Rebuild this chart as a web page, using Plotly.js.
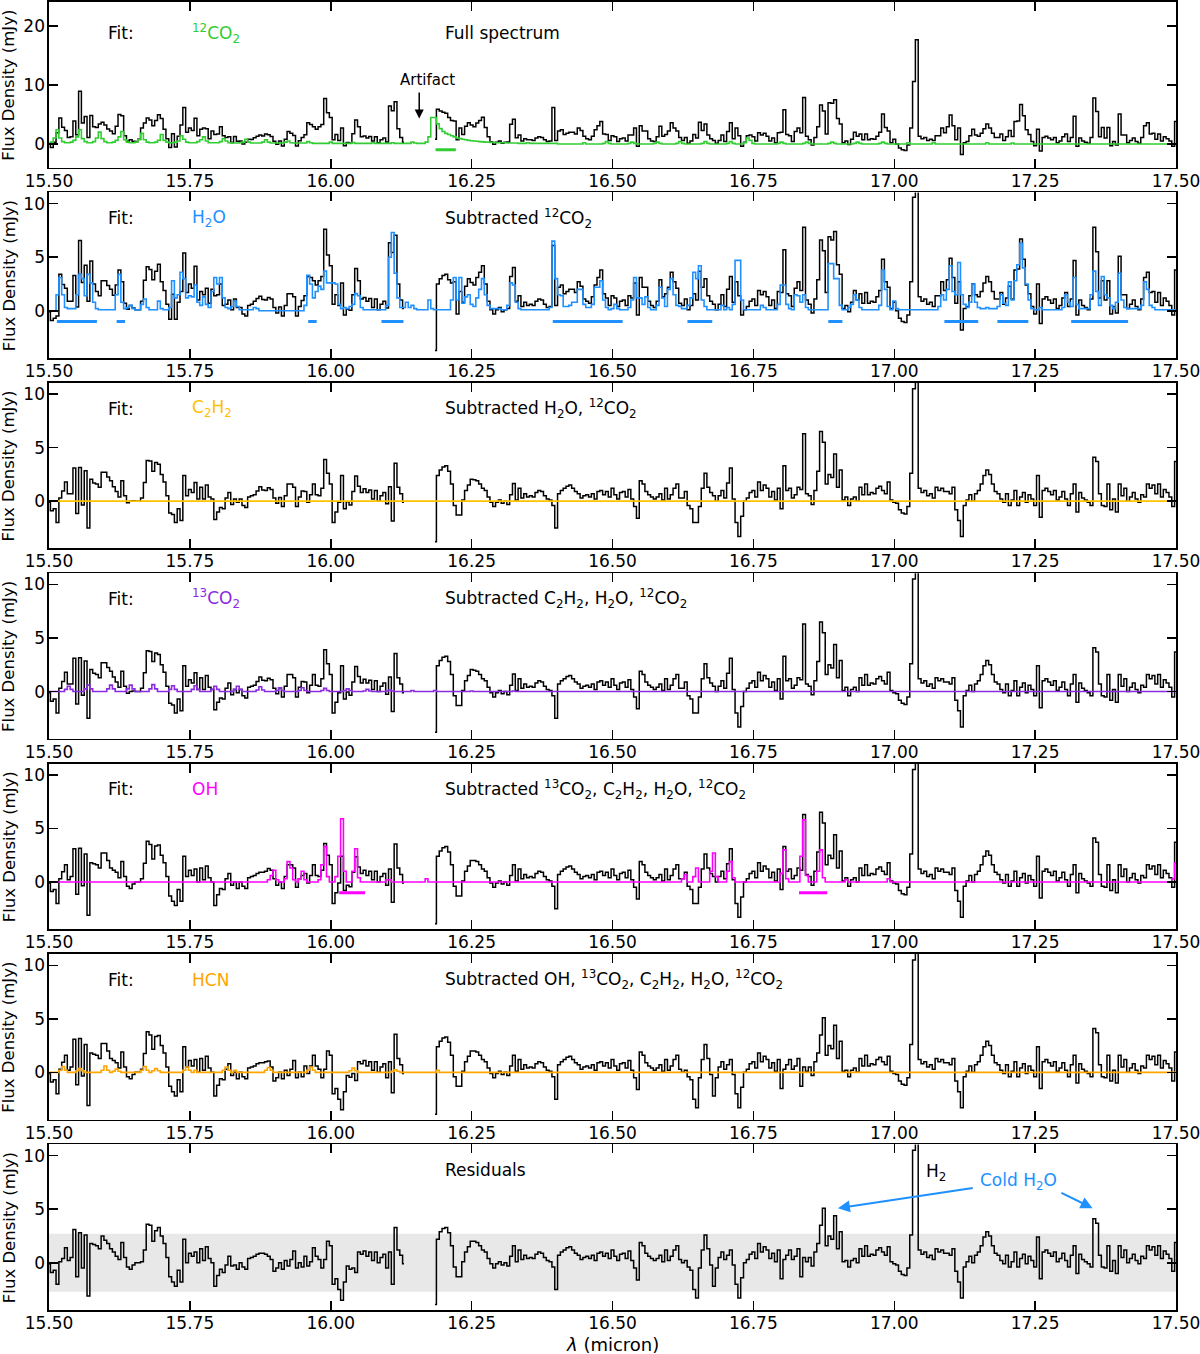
<!DOCTYPE html>
<html>
<head>
<meta charset="utf-8">
<script src="https://cdn.plot.ly/plotly-3.0.1.min.js"></script>
<style>
  body { margin: 0; background: #fff; }
  #graph { width: 1200px; height: 1354px; }
</style>
</head>
<body>
<div id="graph"></div>
<script>
// Spectral channel grid (micron)
const WL0 = 15.50, WL_STEP = 0.005;

// Residual spectrum (mJy), one value per channel; null = no data (artifact gap)
const residual = [
  -0.1,-0.9,-0.7,-2.0,0.1,0.4,1.4,0.2,0.5,3.1,
  -1.3,2.8,-0.5,2.6,-3.1,1.8,1.7,1.6,1.3,2.5,
  2.1,1.8,1.3,1.0,0.6,0.3,1.9,0.5,-0.4,-0.6,
  -0.2,0.0,0.0,0.1,1.2,3.6,3.5,2.0,3.0,3.3,
  2.5,1.8,0.5,-1.3,-1.8,-2.2,-0.7,-1.8,2.2,0.0,
  0.9,0.6,1.0,0.0,1.3,0.2,1.5,0.4,0.0,-2.2,
  -1.2,-0.6,-0.9,-0.2,0.6,-0.3,-0.2,-0.6,0.0,-0.4,
  -0.6,0.4,0.5,0.6,0.8,0.9,0.9,0.8,0.6,0.3,
  -0.8,-0.5,0.0,-0.6,0.2,-0.3,0.3,1.1,-0.5,0.0,
  -0.4,0.6,-0.3,0.1,1.4,0.6,0.3,-0.5,0.3,2.0,
  1.6,-2.0,-1.5,-2.5,-3.5,-1.8,-0.3,-0.6,-0.5,-0.9,
  1.0,0.8,1.1,0.6,1.0,0.2,1.0,0.0,0.5,0.8,
  -0.5,1.0,-2.0,3.3,1.2,0.7,-0.1,null,null,null,
  null,null,null,null,null,null,null,-3.9,2.2,2.9,
  3.2,3.3,2.8,1.6,-0.4,-1.3,-1.3,0.1,1.0,1.5,
  2.0,2.0,1.9,1.6,1.2,1.0,0.4,-0.1,-0.5,-0.1,
  0.1,-0.2,0.0,-0.3,0.6,1.6,0.1,1.2,0.3,0.7,
  0.4,0.5,0.4,0.8,1.0,0.9,0.5,0.2,0.1,-0.4,
  -2.5,0.7,1.0,1.2,1.4,1.5,1.2,0.9,0.7,0.3,
  0.5,0.6,0.4,0.7,0.2,0.9,1.0,0.6,0.9,0.4,
  1.2,0.6,0.2,0.8,0.9,0.4,1.1,0.2,-0.5,-1.6,
  1.9,1.6,0.9,0.6,0.4,0.2,0.4,0.7,0.1,1.2,
  0.2,0.6,1.2,1.6,0.3,0.0,0.2,-0.4,-0.7,-2.5,
  -3.3,-0.5,1.2,2.6,1.3,-0.2,-2.2,-0.5,0.5,1.0,
  0.3,0.7,1.2,-0.2,-2.0,-3.3,-1.4,0.0,0.3,0.8,
  1.0,0.4,1.8,1.0,1.5,1.2,0.4,0.9,0.1,1.2,
  -1.5,0.3,0.7,1.2,0.3,0.6,1.3,-1.3,0.5,0.1,
  0.5,-0.3,1.0,1.8,3.5,5.1,1.6,2.5,2.2,4.4,
  1.3,2.9,0.1,0.2,-0.4,0.2,0.4,0.0,1.3,0.6,
  1.6,0.6,0.8,0.7,1.2,1.4,1.0,0.7,1.5,0.1,
  -0.1,-0.2,-0.8,-1.1,-1.2,-0.5,2.6,10.5,17.6,1.2,
  0.8,1.0,0.5,0.7,0.3,1.3,1.0,1.2,0.9,0.9,
  0.7,1.3,-0.8,-1.8,-3.3,-0.4,0.1,0.6,0.0,0.7,
  1.0,1.6,2.4,2.9,2.5,1.6,0.9,0.7,0.2,-0.1,
  0.7,-0.4,0.1,1.0,-0.4,0.4,0.8,-0.1,0.6,0.2,
  -0.4,2.4,-1.5,1.0,1.2,0.9,0.6,1.0,0.1,0.4,
  0.9,0.2,-0.4,0.7,1.6,-1.0,0.8,0.3,0.1,-0.1,
  -0.4,4.1,3.7,0.7,-0.4,-0.5,1.6,-0.8,0.2,-1.0,
  1.6,0.5,1.2,0.0,0.4,0.8,0.2,-0.1,0.6,0.4,
  1.6,1.2,1.5,0.7,1.6,0.4,1.1,0.8,0.4,-0.8,
  1.9
];

// H2O slab model (mJy), same channels
const h2oModel = [
  0,0,0,1.5,3.1,1.5,0.3,0.2,0.2,0.2,
  1.5,3.4,3.0,1.4,3.4,2.6,0.8,0.2,0.1,0.1,
  0.1,0.1,0.1,0.1,1.5,3.4,0.8,0.2,0.3,0.5,
  0.2,0.1,0.1,0.6,1.1,0.3,0.1,0.1,0.1,0.9,
  0.2,0.1,0.1,0.3,2.8,1.2,1.5,3.6,3.0,1.2,
  1.4,1.3,2.4,0.8,0.5,1.3,0.6,0.3,1.8,3.1,
  2.5,3.1,1.2,0.3,0.2,0.4,0.9,0.4,0.1,0.1,
  0.1,0.1,0.1,0.3,0.2,0,0,0,0,0,
  0,0,0,0,0,0,0,0,0,0,
  0,0.5,3.3,2.5,1.2,1.8,2.3,2.0,3.7,2.6,
  2.6,2.6,2.5,0.6,0.2,0.3,0.2,0.4,0.6,1.6,
  1.4,0.3,0.1,0.1,0.1,0.1,0.1,0.1,0.1,0.1,
  0.5,5.0,7.3,3.5,1.2,0.3,0.3,0.8,0.3,0.5,
  0.2,0.1,0.1,0.1,0.1,1.0,0.2,0.1,0.1,0.1,
  0.1,0.1,0.1,1.0,3.1,1.0,3.1,0.7,1.3,1.5,
  0.6,0.4,1.2,2.0,3.0,1.5,0.5,0.2,0.2,0.2,
  0.2,0.1,0.1,0.5,2.6,2.4,0.8,0.2,0.1,0.1,
  0.1,0.1,0.1,0.1,0.1,0.1,0.1,0.1,0.3,6.5,
  3.0,1.5,1.4,0.4,0.4,0.5,0.8,0.8,2.0,2.0,
  0.6,0.3,0.3,0.6,2.2,2.2,2.8,1.0,0.3,0.1,
  0.2,0.6,0.2,0.1,0.1,0.1,0.3,1.0,3.1,1.2,
  1.2,0.6,1.3,0.3,0.1,0.1,0.5,2.2,1.2,0.4,
  2.0,3.0,1.5,0.5,0.4,0.2,0.2,0.5,1.2,3.6,
  3.0,4.2,1.0,0.4,0.1,0.1,0.1,0.1,0.1,0.5,
  0.1,0.3,0.1,0.6,4.7,4.7,1.0,0.1,0.1,0.1,
  0.1,0.1,0.1,0.5,0.3,0.1,0.1,0.1,0.1,0.6,
  2.4,2.4,0.6,0.2,0.1,1.5,1.4,0.8,1.5,0.3,
  0.1,0.1,0.1,0.1,0.1,0.1,0.1,4.4,4.4,3.0,
  3.0,0.5,0.1,0.1,0.3,0.6,1.5,1.0,0.3,0.1,
  0.1,0.1,0.1,0.1,0.1,0.5,3.8,2.0,0.4,0.1,
  0.9,0.2,0.1,0.1,0.1,0.1,0.1,0.1,0.1,0.1,
  0.1,0.1,0.1,0.1,0.1,0.1,0.4,1.5,1.0,2.0,
  4.2,1.8,1.5,4.5,1.5,0.6,0.3,0.8,2.5,0.8,
  0.3,0.2,0.2,0.3,0.2,0.2,0.2,0.4,1.5,0.7,
  0.5,2.7,1.0,2.8,4.3,6.3,4.0,2.5,1.0,0.2,
  0.1,0.1,0.3,0.1,0.1,0.1,0.1,0.1,0.1,0.1,
  0.3,1.5,0.8,0.4,3.1,0.6,0.2,0.2,0.2,0.2,
  1.5,3.7,1.8,0.5,3.2,1.5,1.2,0.5,0.2,0.8,
  3.5,1.0,0.3,0.2,0.2,0.2,0.2,0.2,0.5,2.7,
  2.0,0.5,0.3,0.1,0.1,0.1,0.1,0.1,0.1,0.1,
  0.1
];

// 12CO2 slab model (mJy), same channels
const co2Model = [
  0.1,0.3,1.0,2.4,1.0,0.4,0.2,0.2,0.3,0.6,
  1.2,2.4,0.9,0.4,0.2,0.2,0.4,1.0,2.0,0.9,
  0.4,0.2,0.2,0.3,0.6,1.2,2.1,0.7,0.3,0.2,
  0.2,0.3,0.7,1.8,0.7,0.3,0.2,0.2,0.3,0.6,
  1.6,0.6,0.3,0.2,0.2,0.3,0.5,1.4,0.8,0.3,
  0.2,0.2,0.2,0.4,0.7,1.2,0.5,0.2,0.2,0.2,
  0.2,0.4,0.9,0.5,0.2,0.15,0.15,0.15,0.2,0.3,
  0.8,0.3,0.15,0.15,0.15,0.15,0.3,0.7,0.3,0.15,
  0.15,0.15,0.15,0.15,0.3,0.5,0.2,0.15,0.15,0.15,
  0.15,0.15,0.4,0.2,0.1,0.1,0.1,0.1,0.1,0.1,
  0.3,0.1,0.1,0.1,0.1,0.1,0.1,0.1,0.25,0.1,
  0.1,0.1,0.1,0.1,0.1,0.2,0.1,0.1,0.1,0.1,
  0.1,0.1,0.2,0.1,0.1,0.1,0.1,0.1,0.1,0.3,
  0.15,0.1,0.1,0.1,0.3,1.2,4.5,4.5,3.4,2.6,
  2.1,1.8,1.6,1.4,1.2,1.0,0.9,0.8,0.7,0.6,
  0.55,0.5,0.45,0.4,0.35,0.3,0.3,0.25,0.25,0.2,
  0.2,0.2,0.2,0.15,0.15,0.15,0.15,0.1,0.1,0.1,
  0.2,0.1,0.1,0.1,0.1,0.1,0.1,0.1,0.1,0.1,
  0.1,0,0,0,0,0,0,0,0,0,
  0.2,0,0,0,0,0,0,0.1,0.4,0.1,
  0,0,0,0,0,0,0.1,0.3,0.1,0,
  0,0,0,0,0,0.1,0.3,0.1,0,0,
  0,0,0,0.1,0.4,0.1,0,0,0,0,
  0,0,0.1,0.4,0.1,0,0,0,0,0,
  0,0.1,0.4,0.1,0,0,0,0.2,1.0,0.6,
  0.1,0,0,0,0,0,0,0,0,0.1,
  0.3,0.1,0,0,0,0,0,0,0.1,0.3,
  0.1,0,0,0,0,0,0,0.1,0.3,0.1,
  0,0,0,0,0,0,0.1,0.3,0.1,0,
  0,0,0,0,0,0.1,0.3,0.1,0,0,
  0,0,0,0,0,0.2,0,0,0,0,
  0,0,0,0,0.2,0,0,0,0,0,
  0,0,0,0,0,0,0,0,0,0,
  0,0,0,0.2,0,0,0,0,0,0,
  0,0,0.15,0,0,0,0,0,0,0,
  0,0,0,0,0,0,0,0,0,0,
  0,0,0,0,0,0,0,0,0,0,
  0,0,0,0,0,0,0,0,0,0,
  0,0,0,0,0,0,0,0,0,0,
  0,0,0,0,0,0,0,0,0,0,
  0
];

// Sparse models: channel index and value (mJy); unlisted channels are 0
const ohChan = [78,79,80,81, 84,85,86,87, 89,90,91, 96,97,98,99, 102,103,104,105, 108,109,110, 120,121, 134,
                225,226, 229,230, 235,236,237, 241,242,243, 260,261,262, 267,268,269, 273,274,275, 283, 298, 399,400];
const ohVal  = [0.2,0.6,1.1,0.2, 0.3,1.9,1.3,0.2, 0.3,1.0,0.2, 0.2,1.6,3.3,0.5, 0.5,2.4,5.9,1.0, 1.0,3.1,0.4, 0.2,0.2, 0.3,
                0.3,0.7, 0.5,1.3, 1.0,2.7,0.5, 1.0,1.9,0.4, 0.8,3.0,0.3, 2.4,5.8,0.6, 1.0,3.0,0.4, 0.2, 0.3, 0.3,1.8];

const hcnChan = [4,5,6, 10,11,12, 19,20,21, 23,24,25, 33,34,35, 37,38,39, 48,49,50, 52, 62,63,64, 66, 77,78,79, 92,93,94, 107,108,109, 122,123,124, 138];
const hcnVal  = [0.2,0.55,0.2, 0.15,0.35,0.15, 0.2,0.6,0.2, 0.1,0.3,0.1, 0.2,0.55,0.2, 0.15,0.35,0.15, 0.2,0.5,0.2, 0.2, 0.2,0.5,0.2, 0.2, 0.2,0.45,0.2, 0.2,0.5,0.2, 0.15,0.4,0.15, 0.1,0.25,0.1, 0.2];

const co13Chan = [6,7,8, 13,14,15, 21,22,23, 28,29,30, 36,37,38, 43,44,45, 51,52,53, 58,59,60, 66,67,68, 74,75,76, 81,82,83, 89,90,91, 97,98,99, 105,106,107, 112,113,114, 120,121,122, 129, 137, 150, 165];
const co13Val  = [0.2,0.5,0.2, 0.25,0.6,0.25, 0.25,0.6,0.25, 0.25,0.6,0.25, 0.25,0.65,0.25, 0.2,0.55,0.2, 0.2,0.55,0.2, 0.2,0.5,0.2, 0.2,0.5,0.2, 0.15,0.45,0.15, 0.1,0.35,0.1, 0.1,0.35,0.1, 0.1,0.3,0.1, 0.1,0.25,0.1, 0.05,0.2,0.05, 0.05,0.15,0.05, 0.1, 0.1, 0.05, 0.05];

// C2H2 fit is flat at zero everywhere
const c2h2Chan = [];
const c2h2Val  = [];

// Wavelength ranges marked under the fitted lines (micron)
const co2Bands = [[16.186, 16.222]];
const h2oBands = [[15.514, 15.585], [15.620, 15.635], [15.960, 15.975], [16.090, 16.129], [16.394, 16.518],
                  [16.633, 16.677], [16.883, 16.908], [17.089, 17.149], [17.183, 17.238], [17.314, 17.415]];
const ohBands  = [[16.015, 16.061], [16.831, 16.881]];
const bandLevel = -1.0;

// Residual scatter band (mJy)
const residualBand = [-2.7, 2.7];

const xTicks = [15.50, 15.75, 16.00, 16.25, 16.50, 16.75, 17.00, 17.25, 17.50];

// ---------------------------------------------------------------
const wl = residual.map((_, i) => +(WL0 + i * WL_STEP).toFixed(3));

function sparseToFull(chan, val) {
    let out = residual.map(() => 0);
    chan.forEach((c, k) => { out[c] = val[k]; });
    return out;
}
function addModel(spec, model) {
    return spec.map((v, i) => v === null ? null : +(v + model[i]).toFixed(3));
}
function bandTrace(bands) {
    let x = [], y = [];
    bands.forEach(b => { x.push(b[0], b[1], null); y.push(bandLevel, bandLevel, null); });
    return {x: x, y: y};
}

const ohModel = sparseToFull(ohChan, ohVal);
const hcnModel = sparseToFull(hcnChan, hcnVal);
const co13Model = sparseToFull(co13Chan, co13Val);
const c2h2Model = sparseToFull(c2h2Chan, c2h2Val);

// Rebuild each stage: each panel shows the spectrum before its fit is subtracted
const specHCN  = addModel(residual, hcnModel);
const specOH   = addModel(specHCN, ohModel);
const spec13   = addModel(specOH, co13Model);
const specC2H2 = addModel(spec13, c2h2Model);
const specH2O  = addModel(specC2H2, h2oModel);
const specFull = addModel(specH2O, co2Model);

const FONT = 'DejaVu Sans, sans-serif';
const panels = [
    {spec: specFull, model: co2Model, color: '#32cd32', fit: '<sup>12</sup>CO<sub>2</sub>',
     title: 'Full spectrum', yr: [-4, 24.1], yt: [0, 10, 20], bands: co2Bands, labelY: 18.8},
    {spec: specH2O, model: h2oModel, color: '#1e90ff', fit: 'H<sub>2</sub>O',
     title: 'Subtracted <sup>12</sup>CO<sub>2</sub>', yr: [-4.4, 11.05], yt: [0, 5, 10], bands: h2oBands, labelY: 8.65},
    {spec: specC2H2, model: c2h2Model, color: '#ffc000', fit: 'C<sub>2</sub>H<sub>2</sub>',
     title: 'Subtracted H<sub>2</sub>O, <sup>12</sup>CO<sub>2</sub>', yr: [-4.4, 11.05], yt: [0, 5, 10], bands: [], labelY: 8.65},
    {spec: spec13, model: co13Model, color: '#8a2be2', fit: '<sup>13</sup>CO<sub>2</sub>',
     title: 'Subtracted C<sub>2</sub>H<sub>2</sub>, H<sub>2</sub>O, <sup>12</sup>CO<sub>2</sub>', yr: [-4.4, 11.05], yt: [0, 5, 10], bands: [], labelY: 8.65},
    {spec: specOH, model: ohModel, color: '#ff00ff', fit: 'OH',
     title: 'Subtracted <sup>13</sup>CO<sub>2</sub>, C<sub>2</sub>H<sub>2</sub>, H<sub>2</sub>O, <sup>12</sup>CO<sub>2</sub>', yr: [-4.4, 11.05], yt: [0, 5, 10], bands: ohBands, labelY: 8.65},
    {spec: specHCN, model: hcnModel, color: '#ffa500', fit: 'HCN',
     title: 'Subtracted OH, <sup>13</sup>CO<sub>2</sub>, C<sub>2</sub>H<sub>2</sub>, H<sub>2</sub>O, <sup>12</sup>CO<sub>2</sub>', yr: [-4.4, 11.05], yt: [0, 5, 10], bands: [], labelY: 8.65},
    {spec: residual, model: null, color: null, fit: null,
     title: 'Residuals', yr: [-4.4, 11.05], yt: [0, 5, 10], bands: [], labelY: 8.65}
];

// panel geometry in pixels
const TOP = 2, PLOT_H = 1308, PANEL_H = 165.5, PITCH = 190.4;

let data = [];
let layout = {
    width: 1200, height: 1354,
    margin: {l: 49, r: 24, t: 2, b: 44},
    paper_bgcolor: 'white', plot_bgcolor: 'white',
    showlegend: false,
    font: {family: FONT, size: 17, color: 'black'},
    annotations: [],
    shapes: []
};

panels.forEach((p, k) => {
    const n = k + 1;
    const xa = n === 1 ? 'x' : 'x' + n;
    const ya = n === 1 ? 'y' : 'y' + n;
    const top = TOP + PITCH * k;
    const d0 = Math.max(0, 1 - (top + PANEL_H - TOP) / PLOT_H);
    const d1 = Math.min(1, 1 - (top - TOP) / PLOT_H);

    const axCommon = {
        ticks: 'inside', ticklen: 9, tickwidth: 1.5, tickcolor: 'black',
        showline: true, linecolor: 'black', linewidth: 1.6, mirror: 'allticks',
        showgrid: false, zeroline: false, ticklabeloverflow: 'allow',
        tickfont: {family: FONT, size: 17, color: 'black'}
    };
    layout['xaxis' + (n === 1 ? '' : n)] = Object.assign({}, axCommon, {
        domain: [0, 1], anchor: ya, range: [15.5, 17.5],
        tickmode: 'array', tickvals: xTicks, tickformat: '.2f', ticklabelstandoff: -3
    });
    layout['yaxis' + (n === 1 ? '' : n)] = Object.assign({}, axCommon, {
        domain: [d0, d1], anchor: xa, range: p.yr,
        tickmode: 'array', tickvals: p.yt, ticklabelstandoff: -1
    });

    data.push({x: wl, y: p.spec, xaxis: xa, yaxis: ya, mode: 'lines',
               line: {color: 'black', width: 1.5, shape: 'hvh'}, connectgaps: false});
    if (p.model) {
        data.push({x: wl, y: p.model, xaxis: xa, yaxis: ya, mode: 'lines',
                   line: {color: p.color, width: 1.6, shape: 'hvh'}});
    }
    if (p.bands.length) {
        const b = bandTrace(p.bands);
        data.push({x: b.x, y: b.y, xaxis: xa, yaxis: ya, mode: 'lines',
                   line: {color: p.color, width: 3}});
    }

    if (p.fit) {
        layout.annotations.push({xref: xa, yref: ya, x: 15.601, y: p.labelY, text: 'Fit:',
            showarrow: false, xanchor: 'left', yanchor: 'middle', font: {size: 17, color: 'black'}});
        layout.annotations.push({xref: xa, yref: ya, x: 15.750, y: p.labelY, text: p.fit,
            showarrow: false, xanchor: 'left', yanchor: 'middle', font: {size: 17, color: p.color}});
    }
    layout.annotations.push({xref: xa, yref: ya, x: 16.200, y: p.labelY, text: p.title,
        showarrow: false, xanchor: 'left', yanchor: 'middle', font: {size: 17, color: 'black'}});
    layout.annotations.push({xref: 'paper', yref: ya + ' domain', x: -0.0355, y: 0.5,
        text: 'Flux Density (mJy)', textangle: -90, showarrow: false,
        xanchor: 'center', yanchor: 'middle', font: {size: 16.5, color: 'black'}});
});

// Residual scatter band
layout.shapes.push({type: 'rect', xref: 'x7 domain', yref: 'y7', x0: 0, x1: 1,
    y0: residualBand[0], y1: residualBand[1], fillcolor: '#e8e8e8', line: {width: 0}, layer: 'below'});

// Artifact marker (top panel)
layout.annotations.push({xref: 'x', yref: 'y', x: 16.171, y: 10.8, text: 'Artifact',
    showarrow: false, font: {size: 15, color: 'black'}});
layout.annotations.push({xref: 'x', yref: 'y', x: 16.157, y: 4.3, axref: 'x', ayref: 'y',
    ax: 16.157, ay: 9.0, text: '', showarrow: true, arrowhead: 2, arrowsize: 1.2,
    arrowwidth: 1.5, arrowcolor: 'black'});

// Residual panel labels
layout.annotations.push({xref: 'x7', yref: 'y7', x: 17.052, y: 8.4, text: 'H<sub>2</sub>',
    showarrow: false, xanchor: 'left', font: {size: 17, color: 'black'}});
layout.annotations.push({xref: 'x7', yref: 'y7', x: 17.221, y: 7.6, text: 'Cold H<sub>2</sub>O',
    showarrow: false, font: {size: 17, color: '#1e90ff'}});
layout.annotations.push({xref: 'x7', yref: 'y7', x: 16.900, y: 5.1, axref: 'x7', ayref: 'y7',
    ax: 17.142, ay: 7.0, text: '', showarrow: true, arrowhead: 2, arrowsize: 1.2,
    arrowwidth: 2, arrowcolor: '#1e90ff'});
layout.annotations.push({xref: 'x7', yref: 'y7', x: 17.352, y: 5.1, axref: 'x7', ayref: 'y7',
    ax: 17.294, ay: 6.6, text: '', showarrow: true, arrowhead: 2, arrowsize: 1.2,
    arrowwidth: 2, arrowcolor: '#1e90ff'});

// x-axis title
layout.annotations.push({xref: 'paper', yref: 'paper', x: 0.5, y: -0.0265,
    text: '<i>λ</i> (micron)', showarrow: false, xanchor: 'center', yanchor: 'middle',
    font: {size: 18, color: 'black'}});

Plotly.newPlot('graph', data, layout, {staticPlot: true});
</script>
</body>
</html>
